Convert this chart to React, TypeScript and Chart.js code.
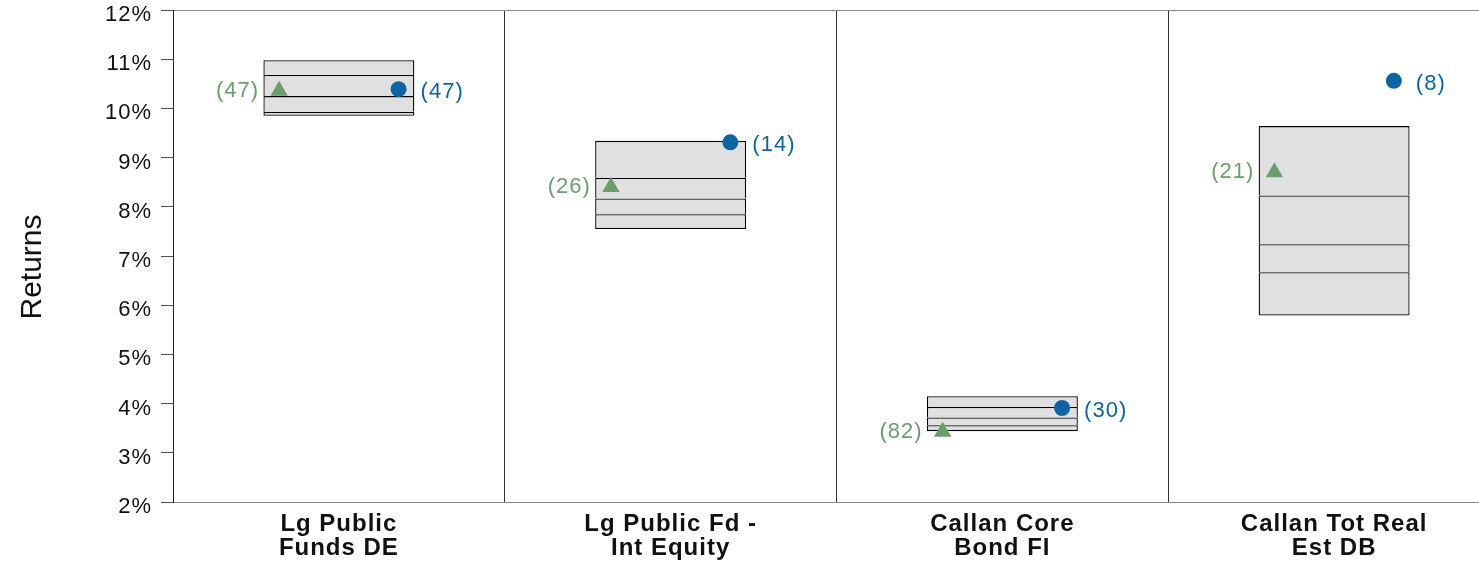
import React, { useEffect, useRef } from "react";
import { Chart, registerables } from "chart.js";

Chart.register(...registerables);

// ---- data ----
const categories: string[][] = [
  ["Lg Public", "Funds DE"],
  ["Lg Public Fd -", "Int Equity"],
  ["Callan Core", "Bond FI"],
  ["Callan Tot Real", "Est DB"],
];
const pct10 = [10.98, 9.34, 4.15, 9.64];
const pct25 = [10.68, 8.59, 3.93, 8.23];
const median = [10.25, 8.17, 3.72, 7.24];
const pct75 = [9.93, 7.85, 3.56, 6.67];
const pct90 = [9.85, 7.55, 3.44, 5.79];
const fundReturns = [10.39, 9.31, 3.91, 10.56];
const fundRanks = [47, 14, 30, 8];
const benchReturns = [10.36, 8.4, 3.43, 8.7];
const benchRanks = [47, 26, 82, 21];
const yTickValues = [2, 3, 4, 5, 6, 7, 8, 9, 10, 11, 12];
const yTitle = "Returns";

// ---- style ----
const GREEN = "#6a9e6a";
const BLUE = "#0b65a2";
const FONT = '"Liberation Sans", Arial, Helvetica, sans-serif';
const MARK_SHIFT = 0.18;
const BW = 1.3;

Chart.defaults.font.family = FONT;

const spacingPlugin = {
  id: "spacing",
  beforeDraw(chart: any) {
    chart.ctx.letterSpacing = "1px";
  },
};

const rankLabelPlugin = {
  id: "rankLabels",
  afterDatasetsDraw(chart: any) {
    const ctx = chart.ctx;
    ctx.save();
    ctx.font = `22px ${FONT}`;
    ctx.textBaseline = "middle";
    const specs = [
      { idx: 4, ranks: benchRanks, color: GREEN, align: "right", dx: -20, dy: 0 },
      { idx: 5, ranks: fundRanks, color: BLUE, align: "left", dx: 22, dy: 3 },
    ];
    specs.forEach((s) => {
      const meta = chart.getDatasetMeta(s.idx);
      ctx.fillStyle = s.color;
      ctx.textAlign = s.align;
      meta.data.forEach((pt: any, i: number) => {
        ctx.fillText(`(${s.ranks[i]})`, pt.x + s.dx, pt.y + s.dy);
      });
    });
    ctx.restore();
  },
};

const titlePlugin = {
  id: "yTitle",
  afterDraw(chart: any) {
    const ctx = chart.ctx;
    const area = chart.chartArea;
    ctx.save();
    ctx.letterSpacing = "0px";
    ctx.font = `30px ${FONT}`;
    ctx.fillStyle = "#111";
    ctx.textAlign = "center";
    ctx.textBaseline = "alphabetic";
    ctx.translate(41, (area.top + area.bottom) / 2 + 11);
    ctx.rotate(-Math.PI / 2);
    ctx.fillText(yTitle, 0, 0);
    ctx.restore();
  },
};

const bands = [
  [pct90, pct75],
  [pct75, median],
  [median, pct25],
  [pct25, pct10],
];

export default function App() {
  const ref = useRef<HTMLCanvasElement>(null);
  useEffect(() => {
    if (!ref.current) return;
    const boxDatasets = bands.map(([lo, hi], b) => ({
      type: "bar" as const,
      data: categories.map((_, i) => ({ x: i, y: [lo[i], hi[i]] })),
      backgroundColor: "#e0e0e0",
      borderColor: "#000",
      borderWidth: { top: BW, left: BW, right: BW, bottom: b === 0 ? BW : 0 },
      borderSkipped: false,
      grouped: false,
      barPercentage: 1,
      categoryPercentage: 0.455,
      order: 2,
    }));
    const chart = new Chart(ref.current, {
      type: "bar",
      data: {
        datasets: [
          ...boxDatasets,
          {
            type: "scatter",
            data: categories.map((_, i) => ({ x: i - MARK_SHIFT, y: benchReturns[i] })),
            pointStyle: "triangle",
            pointRadius: 10,
            backgroundColor: GREEN,
            borderWidth: 0,
            order: 1,
          },
          {
            type: "scatter",
            data: categories.map((_, i) => ({ x: i + MARK_SHIFT, y: fundReturns[i] })),
            pointStyle: "circle",
            pointRadius: 8,
            backgroundColor: BLUE,
            borderWidth: 0,
            order: 1,
          },
        ] as any,
      },
      options: {
        animation: false,
        responsive: true,
        maintainAspectRatio: false,
        events: [],
        layout: { padding: { top: 10, right: 9, bottom: 0, left: 0 } },
        plugins: {
          legend: { display: false },
          tooltip: { enabled: false },
        },
        scales: {
          x: {
            type: "linear",
            min: -0.5,
            max: categories.length - 0.5,
            offset: false,
            afterBuildTicks: (s: any) => {
              s.ticks = categories.map((_, i) => ({ value: i }));
            },
            afterFit: (s: any) => {
              s.height = 60;
              s.paddingLeft = 0;
              s.paddingRight = 0;
            },
            ticks: {
              autoSkip: false,
              maxRotation: 0,
              minRotation: 0,
              padding: 10,
              color: "#111",
              font: { size: 24, weight: "bold", lineHeight: 1 },
              callback: (v: any) => categories[Math.round(Number(v))],
            },
            grid: { offset: true, drawTicks: false, color: "#333", lineWidth: 1 },
            border: { color: "#888", width: 1 },
          },
          y: {
            type: "linear",
            min: 2,
            max: 12,
            afterBuildTicks: (s: any) => {
              s.ticks = yTickValues.map((v) => ({ value: v }));
            },
            afterFit: (s: any) => {
              s.width = 173;
              s.paddingTop = 0;
              s.paddingBottom = 0;
            },
            ticks: {
              padding: 9,
              labelOffset: 5,
              color: "#111",
              font: { size: 22 },
              callback: (v: any) => `${v}%`,
            },
            grid: {
              drawOnChartArea: true,
              color: (c: any) => (c.tick && c.tick.value === 12 ? "#888" : "rgba(0,0,0,0)"),
              tickColor: "#555",
              tickLength: 12,
            },
            border: { color: "#222", width: 1 },
          },
        },
      } as any,
      plugins: [spacingPlugin, rankLabelPlugin, titlePlugin],
    });
    return () => chart.destroy();
  }, []);

  return (
    <div
      style={{
        position: "absolute",
        left: 0,
        top: 0,
        width: 1479,
        height: 562,
        overflow: "hidden",
        background: "#fff",
      }}
    >
      <div style={{ position: "relative", width: 1510, height: 562 }}>
        <canvas ref={ref} />
      </div>
    </div>
  );
}
